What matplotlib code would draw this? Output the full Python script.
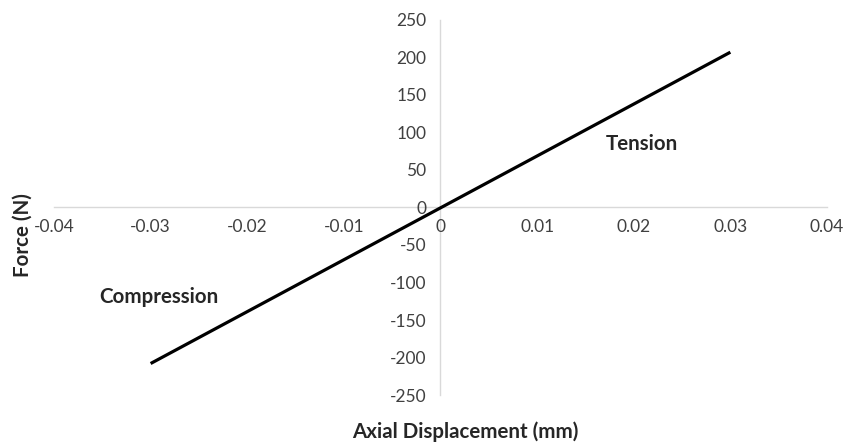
import matplotlib.pyplot as plt

# Linear force-displacement response, tension and compression
displacement = [-0.03, 0.03]   # mm
force = [-208, 207]            # N

x_ticks = [-0.04, -0.03, -0.02, -0.01, 0, 0.01, 0.02, 0.03, 0.04]
x_tick_labels = ['-0.04', '-0.03', '-0.02', '-0.01', '0', '0.01', '0.02', '0.03', '0.04']
y_ticks = [-250, -200, -150, -100, -50, 0, 50, 100, 150, 200, 250]

plt.rcParams['font.family'] = ['Lato', 'DejaVu Sans']
plt.rcParams['axes.unicode_minus'] = False

fig = plt.figure(figsize=(8.56, 4.46), dpi=100)
ax = fig.add_axes([0.0631, 0.1143, 0.903, 0.841])

ax.plot(displacement, force, color='black', lw=2.3, solid_capstyle='butt')

ax.set_xlim(-0.04, 0.04)
ax.set_ylim(-250, 250)
ax.set_xticks(x_ticks)
ax.set_xticklabels(x_tick_labels)
ax.set_yticks(y_ticks)

# axes cross at the origin
ax.spines['left'].set_position(('data', 0))
ax.spines['bottom'].set_position(('data', 0))
ax.spines['right'].set_visible(False)
ax.spines['top'].set_visible(False)
for s in ('left', 'bottom'):
    ax.spines[s].set_color('#d9d9d9')
    ax.spines[s].set_linewidth(1.0)
    ax.spines[s].set_zorder(0)

ax.tick_params(axis='both', length=0, labelsize=12.5, colors='#404040')
ax.tick_params(axis='x', pad=8)
ax.tick_params(axis='y', pad=10)

ax.text(-0.0291, -120, 'Compression', ha='center', va='center',
        fontsize=14.8, fontweight='bold', color='#262626')
ax.text(0.0208, 85, 'Tension', ha='center', va='center',
        fontsize=14.8, fontweight='bold', color='#262626')

fig.text(0.026, 0.473, 'Force (N)', rotation=90, ha='center', va='center',
         fontsize=14.8, fontweight='bold', color='#262626')
fig.text(0.543, 0.031, 'Axial Displacement (mm)', ha='center', va='center',
         fontsize=14.8, fontweight='bold', color='#262626')

fig.savefig('out.png', dpi=100)
